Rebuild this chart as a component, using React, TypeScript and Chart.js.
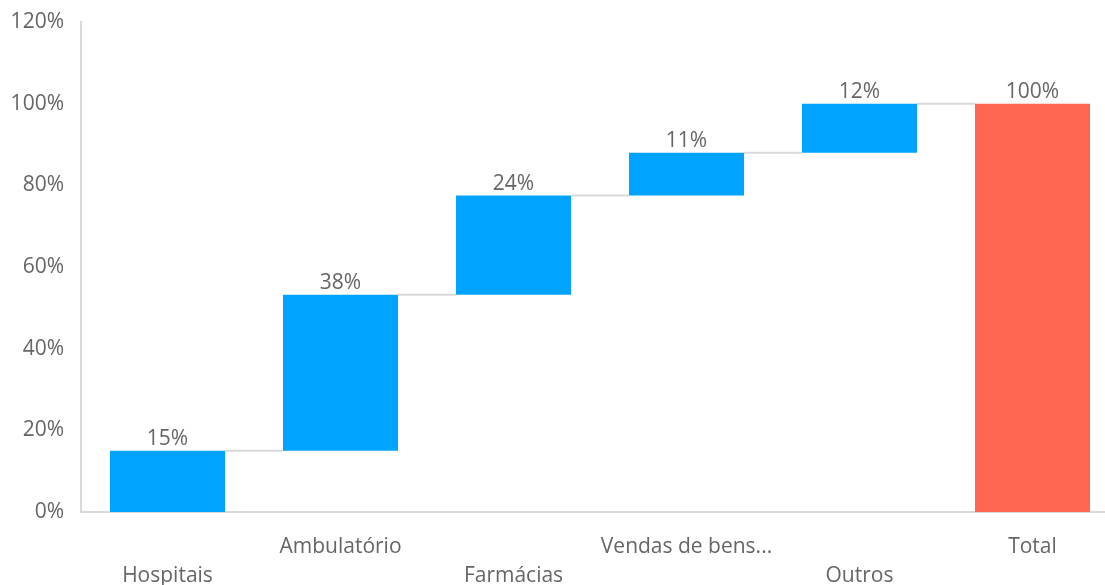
import React, { useEffect, useRef } from "react";
import { Chart, registerables } from "chart.js";

Chart.register(...registerables);

const categories = ["Hospitais", "Ambulatório", "Farmácias", "Vendas de bens...", "Outros", "Total"];
const deltas = [15, 38.2, 24.3, 10.5, 12];
const totalValue = 100;
const yMin = 0;
const yMax = 120;
const yStep = 20;

const BLUE = "#00A3FF";
const RED = "#FF6550";
const TEXT = "#666666";
const LINE = "#D9D9D9";
const FONT = "'Open Sans', sans-serif";

export default function App() {
  const canvasRef = useRef<HTMLCanvasElement | null>(null);

  useEffect(() => {
    const canvas = canvasRef.current;
    if (!canvas) return;

    const ranges: [number, number][] = [];
    let acc = 0;
    for (const d of deltas) {
      ranges.push([acc, acc + d]);
      acc += d;
    }
    ranges.push([0, totalValue]);
    const labelValues = [...deltas, totalValue];
    const colors = categories.map((_, i) => (i === categories.length - 1 ? RED : BLUE));

    const waterfallPlugin = {
      id: "waterfallExtras",
      afterDatasetsDraw(chart: any) {
        const ctx = chart.ctx;
        const meta = chart.getDatasetMeta(0);
        const yScale = chart.scales.y;
        ctx.save();
        ctx.strokeStyle = LINE;
        ctx.lineWidth = 2;
        for (let i = 0; i < meta.data.length - 1; i++) {
          const a = meta.data[i] as any;
          const b = meta.data[i + 1] as any;
          const y = yScale.getPixelForValue(ranges[i][1]);
          ctx.beginPath();
          ctx.moveTo(a.x + a.width / 2, y);
          ctx.lineTo(b.x - b.width / 2, y);
          ctx.stroke();
        }
        ctx.fillStyle = TEXT;
        ctx.font = `21px ${FONT}`;
        ctx.textAlign = "center";
        ctx.textBaseline = "middle";
        meta.data.forEach((el: any, i: number) => {
          const top = yScale.getPixelForValue(ranges[i][1]);
          ctx.fillText(`${Math.round(labelValues[i])}%`, el.x, top - 12);
        });
        ctx.restore();
      },
    };

    const chart = new Chart(canvas, {
      type: "bar",
      data: {
        labels: categories,
        datasets: [
          {
            data: ranges as any,
            backgroundColor: colors,
            borderWidth: 0,
            categoryPercentage: 1,
            barPercentage: 0.665,
          },
        ],
      },
      options: {
        animation: false,
        responsive: true,
        maintainAspectRatio: false,
        layout: { padding: { top: 22, right: 0, left: 0, bottom: 0 } },
        plugins: {
          legend: { display: false },
          tooltip: { enabled: false },
        },
        scales: {
          x: {
            grid: { display: false, drawTicks: false },
            border: { display: true, color: LINE, width: 2 },
            ticks: {
              color: TEXT,
              font: { family: FONT, size: 21, lineHeight: 1.35 },
              padding: 21,
              autoSkip: false,
              maxRotation: 0,
              callback: (_v: any, i: number) =>
                i % 2 === 0 ? ["", categories[i]] : [categories[i], ""],
            },
            afterFit: (scale: any) => {
              scale.height = 73;
            },
          },
          y: {
            min: yMin,
            max: yMax,
            grid: { display: false, drawTicks: false },
            border: { display: true, color: LINE, width: 2 },
            ticks: {
              stepSize: yStep,
              color: TEXT,
              font: { family: FONT, size: 21 },
              padding: 17,
              callback: (v: any) => `${v}%`,
            },
            afterFit: (scale: any) => {
              scale.width = 81;
              scale.paddingTop = 0;
              scale.paddingBottom = 0;
            },
          },
        },
      },
      plugins: [waterfallPlugin],
    });

    return () => chart.destroy();
  }, []);

  return (
    <div
      style={{
        position: "fixed",
        left: 0,
        top: 0,
        width: 1105,
        height: 585,
        overflow: "hidden",
        background: "#fff",
      }}
    >
      <div style={{ position: "relative", width: 1119, height: 585 }}>
        <canvas ref={canvasRef} />
      </div>
    </div>
  );
}
